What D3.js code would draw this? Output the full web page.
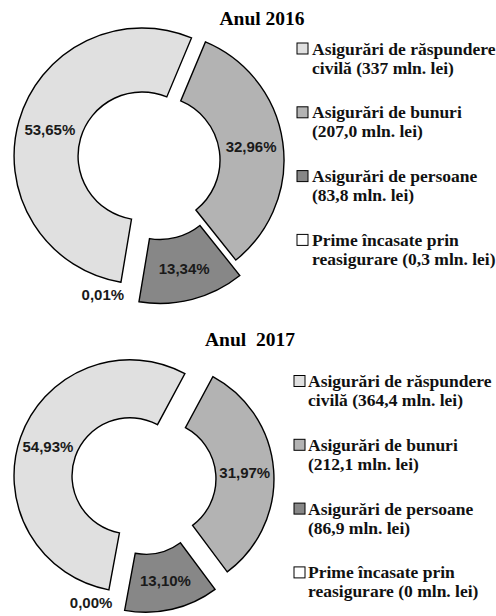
<!DOCTYPE html>
<html>
<head>
<meta charset="utf-8">
<script src="https://cdn.jsdelivr.net/npm/d3@7"></script>
<style>
  body { margin: 0; background: #fff; }
  svg { display: block; }
</style>
</head>
<body>
<script>
const categoryLine1 = ['Asigurări de răspundere', 'Asigurări de bunuri', 'Asigurări de persoane', 'Prime încasate prin']
const categoryLine2 = ['civilă ', '', '', 'reasigurare ']
const colors = ['#e0e0e0', '#b3b3b3', '#878787', '#ffffff']

const years = ['Anul 2016', 'Anul  2017']
const shares2016 = [53.65, 32.96, 13.34, 0.01]
const shares2017 = [54.93, 31.97, 13.10, 0.00]
const amounts2016 = ['337', '207,0', '83,8', '0,3']
const amounts2017 = ['364,4', '212,1', '86,9', '0']

const width = 496
const height = 616

// layout of the two donuts
const panels = [
  { title: years[0], shares: shares2016, amounts: amounts2016,
    cx: 156, cy: 160, outer: 128, inner: 64, start: 189.5, explode: [14.5, 0, 16, 0],
    titleX: 262, titleY: 25, boxX: 297, textX: 312, legendY: 54.5 },
  { title: years[1], shares: shares2017, amounts: amounts2017,
    cx: 142, cy: 480, outer: 116, inner: 58, start: 190.5, explode: [12.7, 16, 16.7, 0],
    titleX: 250, titleY: 346, boxX: 294, textX: 308, legendY: 387 }
]

const fmt = v => d3.format('.2f')(v).replace('.', ',') + '%'
const rad = d => d * Math.PI / 180

const svg = d3.select('body').append('svg')
  .attr('width', width)
  .attr('height', height)

panels.forEach(p => {
  const a0 = rad(p.start)
  const pie = d3.pie().sort(null).value(d => d).startAngle(a0).endAngle(a0 + 2 * Math.PI)
  const arcs = pie(p.shares)
  const arc = d3.arc().innerRadius(p.inner).outerRadius(p.outer)

  const offset = (d, i) => {
    const m = (d.startAngle + d.endAngle) / 2
    return [p.explode[i] * Math.sin(m), -p.explode[i] * Math.cos(m)]
  }

  const g = svg.append('g').attr('transform', `translate(${p.cx},${p.cy})`)

  g.selectAll('path')
    .data(arcs.filter(d => d.endAngle - d.startAngle > 0.01))
    .enter()
    .append('path')
    .attr('d', arc)
    .attr('fill', d => colors[d.index])
    .attr('stroke', '#000')
    .attr('stroke-width', 1.4)
    .attr('transform', d => `translate(${offset(d, d.index)})`)

  g.selectAll('text.val')
    .data(arcs)
    .enter()
    .append('text')
    .attr('class', 'val')
    .attr('transform', (d, i) => {
      if (d.endAngle - d.startAngle > 0.01) {
        const o = offset(d, i)
        const c = arc.centroid(d)
        return `translate(${c[0] + o[0]},${c[1] + o[1]})`
      }
      // tiny slice: label pushed outside the ring
      const a = d.endAngle + rad(12)
      const rr = p.outer + 17
      return `translate(${rr * Math.sin(a)},${-rr * Math.cos(a)})`
    })
    .attr('text-anchor', 'middle')
    .attr('dy', '0.36em')
    .style('font-family', '"Liberation Sans", Arial, sans-serif')
    .style('font-weight', 'bold')
    .style('font-size', '15px')
    .style('fill', '#1a1a1a')
    .text(d => fmt(d.data))

  svg.append('text')
    .attr('x', p.titleX)
    .attr('y', p.titleY)
    .attr('text-anchor', 'middle')
    .style('white-space', 'pre')
    .style('font-family', '"Liberation Serif", "Times New Roman", serif')
    .style('font-weight', 'bold')
    .style('font-size', '19.5px')
    .text(p.title)

  const legend = svg.append('g')
    .selectAll('g')
    .data(categoryLine1)
    .enter()
    .append('g')
    .attr('transform', (d, i) => `translate(0,${p.legendY + i * 63.8})`)

  legend.append('rect')
    .attr('x', p.boxX)
    .attr('y', -11.5)
    .attr('width', 11)
    .attr('height', 11)
    .attr('fill', (d, i) => colors[i])
    .attr('stroke', '#000')
    .attr('stroke-width', 1)

  const txt = legend.append('text')
    .style('font-family', '"Liberation Serif", "Times New Roman", serif')
    .style('font-weight', 'bold')
    .style('font-size', '17.5px')
    .style('fill', '#111')

  txt.append('tspan')
    .attr('x', p.textX)
    .attr('y', 0)
    .text(d => d)

  txt.append('tspan')
    .attr('x', p.textX)
    .attr('y', 19)
    .text((d, i) => `${categoryLine2[i]}(${p.amounts[i]} mln. lei)`)
})
</script>
</body>
</html>
